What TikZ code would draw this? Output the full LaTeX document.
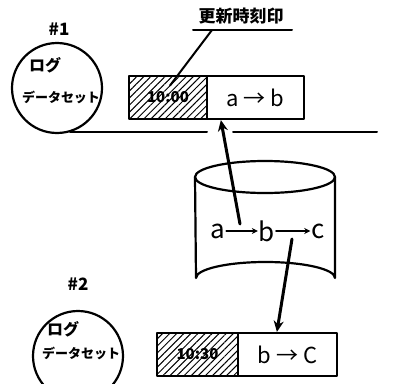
\documentclass[tikz,border=0pt]{standalone}
\usepackage{fontspec}
\setmainfont{Noto Sans CJK JP}
\usetikzlibrary{patterns.meta,arrows.meta}
\begin{document}
\begin{tikzpicture}[x=1pt,y=-1pt,line width=2.2pt,line cap=round,line join=round,
  jp/.style={inner sep=0pt,font=\fontsize{13}{13}\selectfont\bfseries},
  jpbig/.style={inner sep=0pt,font=\fontsize{16}{16}\selectfont\bfseries},
  num/.style={inner sep=0pt,font=\fontsize{17}{17}\selectfont\bfseries},
  dataset/.style={draw,circle,minimum size=90pt,inner sep=0pt},
  stamp/.style={draw,minimum width=78pt,minimum height=43pt,inner sep=0pt,
    pattern={Lines[angle=45,distance=5pt,line width=1pt]},font=\fontsize{15}{15}\selectfont\bfseries},
  val/.style={draw,minimum height=43pt,inner sep=0pt,font=\fontsize{22}{22}\selectfont},
  big/.style={inner sep=0pt,font=\fontsize{26}{26}\selectfont},
  arr/.style={line width=3pt,-{Stealth[length=11pt,width=10pt]}},
  small/.style={line width=2pt,-{Stealth[length=6pt,width=6pt]}}]
\useasboundingbox (0,0) rectangle (407,383);
% #1 dataset
\node[num] (n1) at (59,29) {\#1};
\node[dataset] (d1) at (57,88) {};
\node[jpbig,anchor=west] (l1) at (28,65) {ログ};
\node[jp] (s1) at (61,97) {データセット};
% #2 dataset
\node[num] (n2) at (78,284) {\#2};
\node[dataset] (d2) at (78,356) {};
\node[jpbig,anchor=west] (l2) at (46,329) {ログ};
\node[jp] (s2) at (81,353) {データセット};
% label
\node[inner sep=0pt,font=\fontsize{17}{17}\selectfont\bfseries] (lbl) at (241,16) {更新時刻印};
\coordinate (u1) at (193,30);
\coordinate (u2) at (292,30);
\draw[line width=2pt] (u1) -- (u2);
\coordinate (lead) at (212,30);
% box 1
\node[stamp] (t1) at (168,97.5) {10:00};
\node[val,minimum width=97pt] (v1) at (255.5,97.5) {a → b};
\draw[line width=2pt] (lead) -- ([xshift=2pt,yshift=12pt]t1.center);
% separator
\coordinate (h1) at (70,132);
\coordinate (h2) at (207,132);
\coordinate (h3) at (233,132);
\coordinate (h4) at (377,132);
\draw[line width=2pt] (h1) -- (h2) (h3) -- (h4);
% cylinder
\draw (265,177) ellipse [x radius=70,y radius=16];
\draw (195,177) -- (196,278) arc[start angle=180,end angle=360,x radius=69.5,y radius=16] -- (335,177);
\node[big] (ca) at (218,231) {a};
\node[big] (cb) at (267,231) {b};
\node[big] (cc) at (318,231) {c};
\draw[small] (ca) -- (cb);
\draw[small] (cb) -- (cc);
% box 2
\node[stamp,minimum width=81pt] (t2) at (197.5,354.5) {10:30};
\node[val,minimum width=99pt] (v2) at (287.5,354.5) {b → C};
% arrows
\coordinate (a1) at (240,224);
\coordinate (a2) at (292,239);
\draw[arr] (a1) -- ([xshift=15pt]v1.south west);
\draw[arr] (a2) -- ([xshift=40pt]v2.north west);
\end{tikzpicture}
\end{document}
